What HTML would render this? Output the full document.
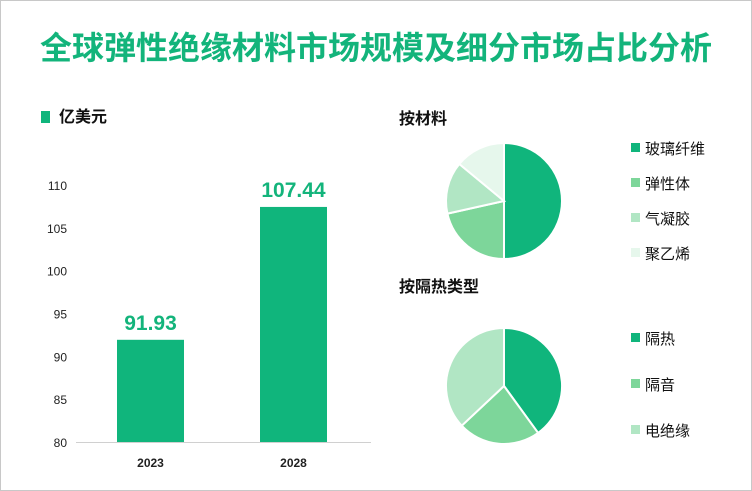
<!DOCTYPE html>
<html><head><meta charset="utf-8"><style>
body{margin:0;background:#fff;font-family:"Liberation Sans","Noto Sans CJK SC",sans-serif}
#wrap{position:relative;width:750px;height:489px;border:1px solid #c8c8c8;overflow:hidden}
.t{position:absolute;white-space:nowrap}
</style></head><body>
<div id="wrap">
<div class="t" style="left:0;width:750px;text-align:center;top:22px;font-size:32px;font-weight:bold;color:#13b47b">全球弹性绝缘材料市场规模及细分市场占比分析</div>
<svg id="svg" width="750" height="489" style="position:absolute;left:0;top:0"></svg>
</div>
<script>
const years=["2023","2028"];
const values=[91.93,107.44];
const yTicks=[80,85,90,95,100,105,110];
const matLabels=["玻璃纤维","弹性体","气凝胶","聚乙烯"];
const matValues=[50,21.5,14.5,14];
const insLabels=["隔热","隔音","电绝缘"];
const insValues=[40,23,37];
const NS="http://www.w3.org/2000/svg";
const svg=document.getElementById('svg');
const C1=["#10b57c","#7dd69a","#b1e6c4","#e6f7ec"];
function mk(tag,attrs,txt){const e=document.createElementNS(NS,tag);for(const k in attrs)e.setAttribute(k,attrs[k]);if(txt!==undefined)e.textContent=txt;svg.appendChild(e);return e;}
const y0=441,yk=(441-184)/30;
function Y(v){return y0-(v-80)*yk;}
let e=mk('rect',{x:40,y:110,width:9,height:12,fill:"#10b57c"});

e=mk('text',{x:58,y:121,'font-size':16,'font-weight':'bold',fill:'#111'},"亿美元");

yTicks.forEach(t=>{const l=mk('text',{x:66,y:Y(t)+5,'text-anchor':'end','font-size':12,fill:'#222'},String(t));
});
e=mk('line',{x1:75,x2:370,y1:y0+0.5,y2:y0+0.5,stroke:'#d0d0d0'});

years.forEach((yr,i)=>{const x=116+i*143;
const r=mk('rect',{x:x,y:Y(values[i]),width:67,height:y0-Y(values[i]),fill:'#10b57c'});

const v=mk('text',{x:x+33.5,y:Y(values[i])-10,'text-anchor':'middle','font-size':21,'font-weight':'bold',fill:'#13b47b'},values[i].toFixed(2));

const l=mk('text',{x:x+33.5,y:466,'text-anchor':'middle','font-size':12,'font-weight':'bold',fill:'#222'},yr);
});
function pie(cx,cy,r,vals,cols,name){const tot=vals.reduce((a,b)=>a+b,0);let a=0;
vals.forEach((v,i)=>{const a1=a+v/tot*2*Math.PI;const p=(t)=>[cx+r*Math.sin(t),cy-r*Math.cos(t)];
const [x0,y0]=p(a),[x1,y1]=p(a1);
const s=mk('path',{d:`M${cx},${cy}L${x0},${y0}A${r},${r} 0 ${a1-a>Math.PI?1:0} 1 ${x1},${y1}Z`,fill:cols[i],stroke:'#fff','stroke-width':2});
a=a1;});}
e=mk('text',{x:398,y:123,'font-size':16,'font-weight':'bold',fill:'#111'},"按材料");

pie(503,200,58,matValues,C1,'material-pie');
matLabels.forEach((l,i)=>{const y=147+i*35;
const s=mk('rect',{x:630,y:y-5,width:9,height:9,fill:C1[i]});

const t=mk('text',{x:644,y:y+6,'font-size':15,fill:'#111'},l);
});
e=mk('text',{x:398,y:291,'font-size':16,'font-weight':'bold',fill:'#111'},"按隔热类型");

pie(503,385,58,insValues,C1,'insulation-pie');
insLabels.forEach((l,i)=>{const y=337+i*46;
const s=mk('rect',{x:630,y:y-5,width:9,height:9,fill:C1[i]});

const t=mk('text',{x:644,y:y+6,'font-size':15,fill:'#111'},l);
});
</script>
</body></html>
